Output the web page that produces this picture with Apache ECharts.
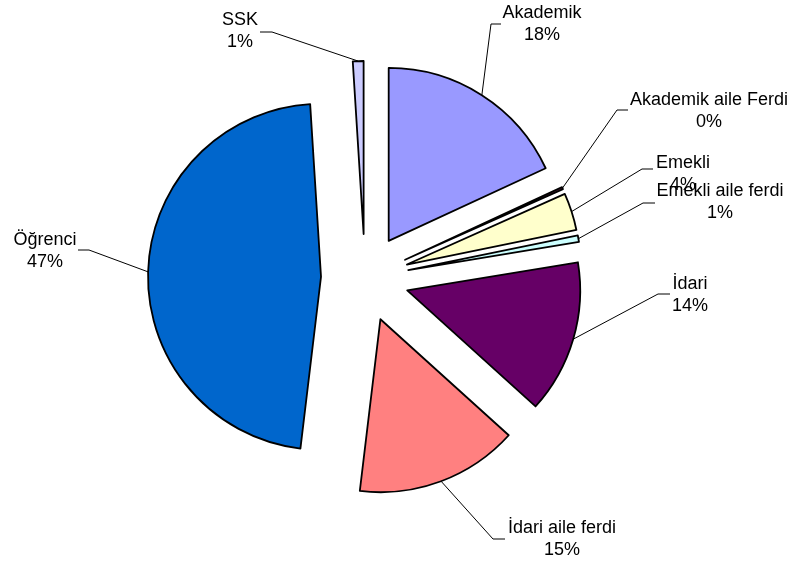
<!DOCTYPE html>
<html><head><meta charset="utf-8">
<script src="https://cdn.jsdelivr.net/npm/echarts@6/dist/echarts.min.js"></script>
<style>html,body{margin:0;padding:0;background:#fff}#c{width:795px;height:568px}</style>
</head><body><div id="c"></div>
<script>
const categories = ['Akademik','Akademik aile Ferdi','Emekli','Emekli aile ferdi','İdari','İdari aile ferdi','Öğrenci','SSK'];
const shares = [18.1, 0.2, 3.5, 0.6, 14.3, 15.2, 47.1, 1.0];
const colors = ['#9999FF','#993366','#FFFFCC','#CCFFFF','#660066','#FF8080','#0066CC','#CCCCFF'];

// label layout (centre of text block) and leader line elbow / end points
const labelPos = [[542,24],[709,111],[683,174],[720,202],[690,295],[562,539],[45,251],[240,31]];
const leaderElbow = [[491,24],[617,110],[642,169],[643,203],[658,294],[493,539],[89,250],[272,32]];
const leaderEnd   = [[501,24],[628,110],[653,169],[655,203],[670,294],[505,539],[78,250],[260,32]];

const CENTER = [365, 278];
const RADIUS = 173;
const EXPLODE = 44;

const chart = echarts.init(document.getElementById('c'), null, {renderer:'canvas'});
chart.setOption({
  animation: false,
  backgroundColor: '#fff',
  series: [{
    type: 'pie',
    center: CENTER,
    radius: RADIUS,
    startAngle: 90,
    clockwise: true,
    percentPrecision: 0,
    selectedMode: 'multiple',
    selectedOffset: EXPLODE,
    silent: true,
    itemStyle: { borderColor: '#000', borderWidth: 1.8 },
    select: { itemStyle: { borderColor: '#000', borderWidth: 1.8 } },
    emphasis: { disabled: true },
    label: { show: false },
    labelLine: { show: false },
    data: categories.map((n, i) => ({
      name: n, value: shares[i], selected: true,
      itemStyle: { color: colors[i] }
    }))
  }, {
    // label layer: same slices, invisible, carries the text and leader lines
    type: 'pie',
    center: CENTER,
    radius: RADIUS,
    startAngle: 90,
    clockwise: true,
    percentPrecision: 0,
    silent: true,
    z: 3,
    avoidLabelOverlap: false,
    itemStyle: { color: 'rgba(0,0,0,0)', borderWidth: 0 },
    emphasis: { disabled: true },
    label: {
      show: true,
      position: 'outside',
      formatter: '{b}\n{d}%',
      color: '#000',
      fontFamily: 'Liberation Sans, Arial, sans-serif',
      fontSize: 18,
      lineHeight: 22,
      align: 'center'
    },
    labelLine: { show: true, length: 10, length2: 10, lineStyle: { color: '#000', width: 1 } },
    labelLayout: function (p) {
      const i = p.dataIndex;
      const pts = p.labelLinePoints;
      let anchor = leaderElbow[i];
      if (pts && pts.length >= 2) {
        const vx = pts[1][0] - pts[0][0], vy = pts[1][1] - pts[0][1];
        const len = Math.sqrt(vx * vx + vy * vy) || 1;
        anchor = [pts[0][0] + EXPLODE * vx / len, pts[0][1] + EXPLODE * vy / len];
      }
      return {
        x: labelPos[i][0],
        y: labelPos[i][1],
        align: 'center',
        verticalAlign: 'middle',
        labelLinePoints: [anchor, leaderElbow[i], leaderEnd[i]]
      };
    },
    data: categories.map((n, i) => ({ name: n, value: shares[i] }))
  }]
});
</script></body></html>
